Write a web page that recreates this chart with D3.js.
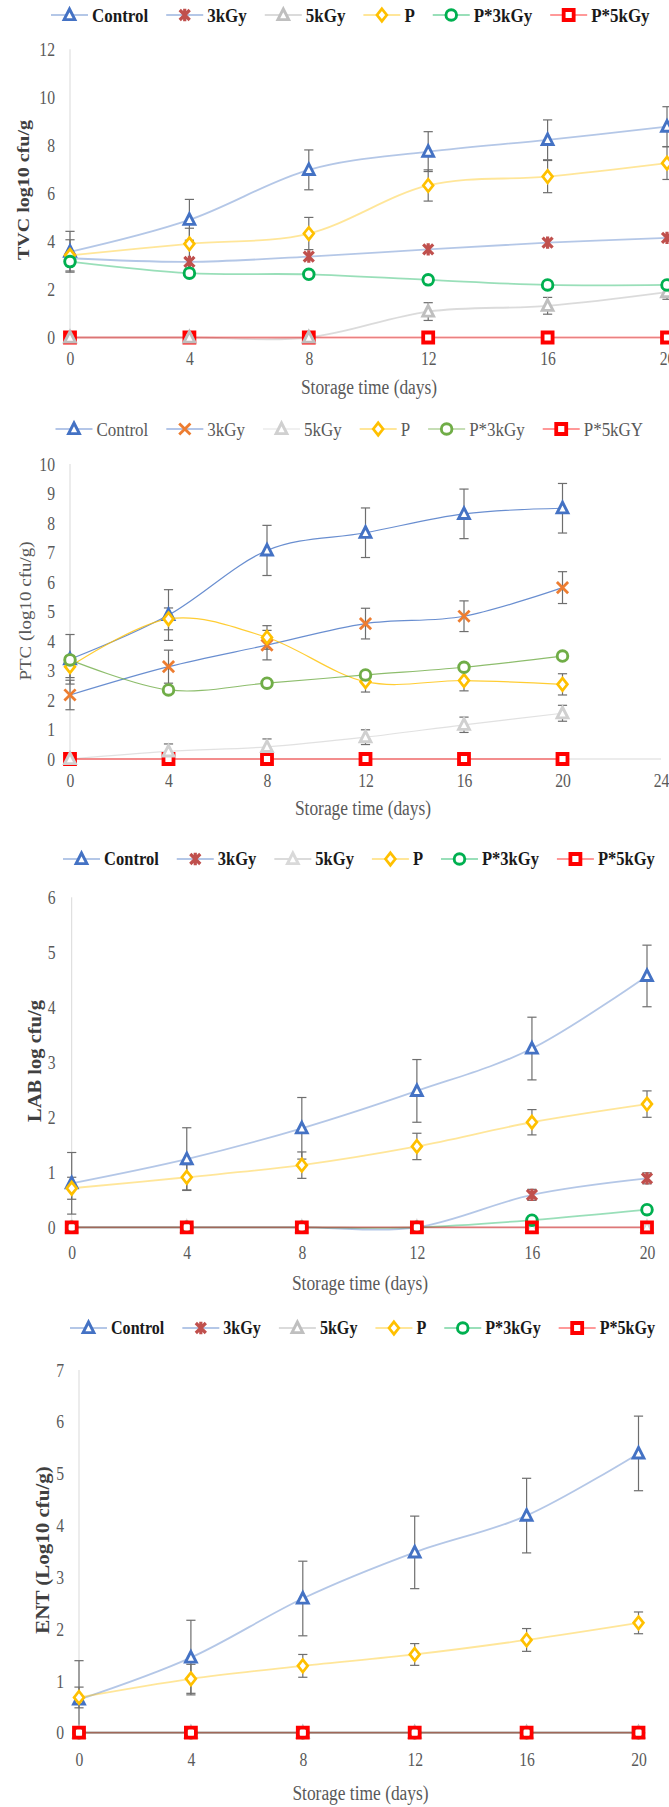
<!DOCTYPE html>
<html><head><meta charset="utf-8">
<script src="https://cdn.jsdelivr.net/npm/d3@7"></script>
<style>body{margin:0;background:#fff}svg{display:block}</style>
</head><body>
<svg id="c" width="669" height="1807"></svg>
<script>
// ---------- DATA ----------
const days = [0, 4, 8, 12, 16, 20];
const seriesNames = ["Control", "3kGy", "5kGy", "P", "P*3kGy", "P*5kGy"];
const seriesNamesPTC = ["Control", "3kGy", "5kGy", "P", "P*3kGy", "P*5kGY"];

// TVC
const tvcControl = [3.57, 4.90, 6.98, 7.74, 8.23, 8.78];
const tvc3kGy    = [3.30, 3.15, 3.37, 3.67, 3.95, 4.15];
const tvc5kGy    = [0, 0, 0, 1.08, 1.32, 1.89];
const tvcP       = [3.42, 3.90, 4.33, 6.33, 6.70, 7.26];
const tvcP3kGy   = [3.16, 2.68, 2.63, 2.40, 2.19, 2.19];
const tvcP5kGy   = [0, 0, 0, 0, 0, 0];
const tvcControlErr = [0.85, 0.85, 0.83, 0.83, 0.83, 0.83];
const tvcPErr       = [0.65, 0.65, 0.67, 0.65, 0.67, 0.68];
const tvc5kGyErr    = [0, 0, 0, 0.37, 0.35, 0.30];

// PTC
const ptcControl = [3.38, 4.88, 7.07, 7.67, 8.31, 8.50];
const ptc3kGy    = [2.17, 3.13, 3.86, 4.59, 4.84, 5.81];
const ptc5kGy    = [0, 0.26, 0.41, 0.74, 1.16, 1.55];
const ptcP       = [3.13, 4.75, 4.12, 2.62, 2.66, 2.53];
const ptcP3kGy   = [3.36, 2.34, 2.57, 2.85, 3.11, 3.49];
const ptcP5kGy   = [0, 0, 0, 0, 0, 0];
const ptcControlErr = [0.84, 0.86, 0.85, 0.84, 0.84, 0.84];
const ptc3kGyErr    = [0.50, 0.56, 0.50, 0.52, 0.52, 0.54];
const ptc5kGyErr    = [0, 0.25, 0.27, 0.25, 0.26, 0.27];
const ptcPErr       = [0.37, 0.37, 0.40, 0.35, 0.35, 0.36];

// LAB
const labControl = [0.80, 1.24, 1.80, 2.48, 3.25, 4.57];
const lab3kGy    = [0, 0, 0, 0, 0.59, 0.89];
const lab5kGy    = [0, 0, 0, 0, 0, 0];
const labP       = [0.71, 0.91, 1.13, 1.47, 1.91, 2.24];
const labP3kGy   = [0, 0, 0, 0, 0.13, 0.32];
const labP5kGy   = [0, 0, 0, 0, 0, 0];
const labControlErr = [0.56, 0.57, 0.56, 0.57, 0.57, 0.56];
const labPErr       = [0.20, 0.23, 0.24, 0.24, 0.23, 0.24];
const lab3kGyErr    = [0, 0, 0, 0, 0.10, 0.10];

// ENT
const entControl = [0.64, 1.45, 2.59, 3.48, 4.19, 5.39];
const ent3kGy    = [0, 0, 0, 0, 0, 0];
const ent5kGy    = [0, 0, 0, 0, 0, 0];
const entP       = [0.68, 1.04, 1.29, 1.51, 1.79, 2.12];
const entP3kGy   = [0, 0, 0, 0, 0, 0];
const entP5kGy   = [0, 0, 0, 0, 0, 0];
const entControlErr = [0.75, 0.72, 0.72, 0.70, 0.72, 0.72];
const entPErr       = [0.20, 0.28, 0.22, 0.21, 0.22, 0.21];

const yTicksTVC = [0, 2, 4, 6, 8, 10, 12];
const yTicksPTC = [0, 1, 2, 3, 4, 5, 6, 7, 8, 9, 10];
const yTicksLAB = [0, 1, 2, 3, 4, 5, 6];
const yTicksENT = [0, 1, 2, 3, 4, 5, 6, 7];
const xTicks20 = [0, 4, 8, 12, 16, 20];
const xTicks24 = [0, 4, 8, 12, 16, 20, 24];

// ---------- STYLE ----------
const SX = 0.87;
const FONT = '"Liberation Serif","Times New Roman",serif';
const svg = d3.select("#c");

const markerShapes = {
  triangle: "M0,-6L5.4,4.6L-5.4,4.6Z",
  diamond: "M0,-6.2L4.9,0L0,6.2L-4.9,0Z",
  square: "M-5,-5H5V5H-5Z",
  x: "M-5.6,-5.6L5.6,5.6M5.6,-5.6L-5.6,5.6",
  star: "M-5,-5L5,5M5,-5L-5,5M0,-6.2V6.2"
};
const markerStroke = {triangle: 2.9, diamond: 2.7, square: 3.8, x: 2.8, star: 3.2, circle: 2.9};

function drawMarker(g, type, cx, cy, color, squareFill) {
  const sw = markerStroke[type];
  if (type === "circle") {
    g.append("circle").attr("cx", cx).attr("cy", cy).attr("r", 5.3)
      .attr("fill", "#fff").attr("stroke", color).attr("stroke-width", sw);
  } else {
    const open = (type === "x" || type === "star");
    let fill = open ? "none" : "#fff";
    if (type === "square" && squareFill) fill = squareFill;
    g.append("path").attr("d", markerShapes[type])
      .attr("transform", `translate(${cx},${cy})`)
      .attr("fill", fill)
      .attr("stroke", color).attr("stroke-width", sw);
  }
}

function drawPanel(p) {
  const g = svg.append("g");
  const x = d3.scaleLinear().domain([0, p.xMax]).range([p.x0, p.x1]);
  const y = d3.scaleLinear().domain([0, p.yMax]).range([p.y0, p.y1]);

  // axis lines
  g.append("line").attr("x1", x(0)).attr("x2", x(0)).attr("y1", y(p.yMax)).attr("y2", y(0))
    .attr("stroke", "#D9D9D9").attr("stroke-width", 1);
  g.append("line").attr("x1", x(0)).attr("x2", x(p.xMax)).attr("y1", y(0)).attr("y2", y(0))
    .attr("stroke", "#D9D9D9").attr("stroke-width", 1);

  // y axis labels
  const ya = g.append("g").attr("transform", `translate(${p.yLabelRight},0)`)
    .call(d3.axisLeft(y).tickValues(p.yTicks).tickSize(0).tickPadding(0).tickFormat(d3.format("d")));
  ya.select(".domain").remove();
  ya.selectAll("text").attr("font-family", FONT).attr("font-size", 18).attr("fill", "#595959")
    .attr("dy", "0.34em").attr("transform", `scale(${SX},1)`);

  // x axis labels
  const xa = g.append("g").attr("transform", `translate(0,${p.xLabelY})`)
    .call(d3.axisBottom(x).tickValues(p.xTicks).tickSize(0).tickPadding(0).tickFormat(d3.format("d")));
  xa.select(".domain").remove();
  xa.selectAll("text").attr("font-family", FONT).attr("font-size", 18).attr("fill", "#595959")
    .attr("dy", "0.34em").attr("transform", `scale(${SX},1)`);

  // x title
  g.append("text").text("Storage time (days)")
    .attr("transform", `translate(${p.xTitleX},${p.xTitleY}) scale(${SX},1)`)
    .attr("text-anchor", "middle").attr("dy", "0.34em")
    .attr("font-family", FONT).attr("font-size", 20).attr("fill", "#595959");

  // y title
  g.append("text").text(p.yTitle)
    .attr("transform", `translate(${p.yTitleX},${p.yTitleY}) rotate(-90) scale(1,${SX})`)
    .attr("text-anchor", "middle").attr("dy", "0.34em")
    .attr("font-family", FONT).attr("font-size", p.yTitleSize)
    .attr("font-weight", p.yTitleBold ? "bold" : "normal").attr("fill", p.yTitleColor);

  const line = d3.line().x((d, i) => x(days[i])).y(d => y(d)).curve(d3.curveCardinal.tension(0));

  // lines
  p.series.forEach(s => {
    g.append("path").datum(s.values).attr("d", line).attr("fill", "none")
      .attr("stroke", s.lineColor).attr("stroke-opacity", p.lineOpacity)
      .attr("stroke-width", p.lineWidth);
  });

  // error bars
  p.series.forEach(s => {
    if (!s.err) return;
    s.values.forEach((v, i) => {
      const e = s.err[i];
      if (!e) return;
      const cx = x(days[i]);
      g.append("line").attr("x1", cx).attr("x2", cx).attr("y1", y(v - e)).attr("y2", y(v + e))
        .attr("stroke", "#6e6e6e").attr("stroke-width", 1.2);
      [v - e, v + e].forEach(t => {
        g.append("line").attr("x1", cx - 4.6).attr("x2", cx + 4.6).attr("y1", y(t)).attr("y2", y(t))
          .attr("stroke", "#6e6e6e").attr("stroke-width", 1.2);
      });
    });
  });

  // markers
  p.markerOrder.forEach(k => {
    const s = p.series[k];
    s.values.forEach((v, i) => drawMarker(g, s.marker, x(days[i]), y(v), s.color, p.squareFill));
  });

  // legend
  let lx = p.legendX;
  p.series.forEach(s => {
    g.append("line").attr("x1", lx).attr("x2", lx + 37).attr("y1", p.legendY).attr("y2", p.legendY)
      .attr("stroke", s.lineColor).attr("stroke-opacity", p.lineOpacity).attr("stroke-width", p.lineWidth);
    drawMarker(g, s.marker, lx + 18.5, p.legendY, s.color, "#fff");
    const t = g.append("text").text(s.name)
      .attr("transform", `translate(${lx + 41},${p.legendY}) scale(${SX},1)`)
      .attr("dy", "0.34em").attr("font-family", FONT).attr("font-size", p.legendSize)
      .attr("font-weight", p.legendBold ? "bold" : "normal").attr("fill", p.legendColor);
    lx = lx + 41 + t.node().getComputedTextLength() * SX + 18;
  });
}

function buildSeries(names, vals, errs, colors, lineColors, markers) {
  return names.map((n, i) => ({name: n, values: vals[i], err: errs[i], color: colors[i], lineColor: lineColors[i], marker: markers[i]}));
}

const colorsA = ["#4472C4", "#C0504D", "#BFBFBF", "#FFC000", "#00B050", "#FF0000"];
const lineColorsA = ["#4472C4", "#4472C4", "#A6A6A6", "#FFC000", "#00B050", "#FF0000"];
const colorsB = ["#4472C4", "#ED7D31", "#D0D0D0", "#FFC000", "#70AD47", "#FF0000"];
const lineColorsB = ["#4472C4", "#4472C4", "#D9D9D9", "#FFC000", "#70AD47", "#FF0000"];
const markersA = ["triangle", "star", "triangle", "diamond", "circle", "square"];
const markersB = ["triangle", "x", "triangle", "diamond", "circle", "square"];

drawPanel({
  xMax: 20, x0: 70, x1: 667, yMax: 12, y0: 337.5, y1: 49.3,
  yTicks: yTicksTVC, xTicks: xTicks20, yLabelRight: 55, xLabelY: 359,
  xTitleX: 369, xTitleY: 387, yTitle: "TVC log10 cfu/g", yTitleX: 23, yTitleY: 190,
  yTitleSize: 20, yTitleBold: true, yTitleColor: "#404040",
  lineOpacity: 0.4, lineWidth: 1.8, markerOrder: [5, 0, 1, 2, 3, 4], squareFill: "#fff",
  legendX: 51, legendY: 15, legendSize: 19.5, legendBold: true, legendColor: "#1a1a1a",
  series: buildSeries(seriesNames,
    [tvcControl, tvc3kGy, tvc5kGy, tvcP, tvcP3kGy, tvcP5kGy],
    [tvcControlErr, null, tvc5kGyErr, tvcPErr, null, null],
    colorsA, lineColorsA, markersA)
});

drawPanel({
  xMax: 24, x0: 70, x1: 661, yMax: 10, y0: 759, y1: 464,
  yTicks: yTicksPTC, xTicks: xTicks24, yLabelRight: 55, xLabelY: 781,
  xTitleX: 363, xTitleY: 808, yTitle: "PTC (log10 cfu/g)", yTitleX: 25, yTitleY: 611,
  yTitleSize: 19, yTitleBold: false, yTitleColor: "#595959",
  lineOpacity: 0.8, lineWidth: 1.2, markerOrder: [5, 0, 1, 2, 3, 4], squareFill: "#fff",
  legendX: 55.5, legendY: 429, legendSize: 19.5, legendBold: false, legendColor: "#595959",
  series: buildSeries(seriesNamesPTC,
    [ptcControl, ptc3kGy, ptc5kGy, ptcP, ptcP3kGy, ptcP5kGy],
    [ptcControlErr, ptc3kGyErr, ptc5kGyErr, ptcPErr, null, null],
    colorsB, lineColorsB, markersB)
});

drawPanel({
  xMax: 20, x0: 71.7, x1: 647, yMax: 6, y0: 1227.3, y1: 897.3,
  yTicks: yTicksLAB, xTicks: xTicks20, yLabelRight: 55.5, xLabelY: 1253,
  xTitleX: 360, xTitleY: 1283, yTitle: "LAB log cfu/g", yTitleX: 35, yTitleY: 1061,
  yTitleSize: 20.5, yTitleBold: true, yTitleColor: "#404040",
  lineOpacity: 0.4, lineWidth: 1.8, markerOrder: [0, 1, 2, 3, 4, 5], squareFill: "none",
  legendX: 63, legendY: 859, legendSize: 19, legendBold: true, legendColor: "#1a1a1a",
  series: buildSeries(seriesNames,
    [labControl, lab3kGy, lab5kGy, labP, labP3kGy, labP5kGy],
    [labControlErr, lab3kGyErr, null, labPErr, null, null],
    ["#4472C4", "#C0504D", "#D9D9D9", "#FFC000", "#00B050", "#FF0000"], lineColorsA, markersA)
});

drawPanel({
  xMax: 20, x0: 79, x1: 638.5, yMax: 7, y0: 1732.7, y1: 1370,
  yTicks: yTicksENT, xTicks: xTicks20, yLabelRight: 64, xLabelY: 1760,
  xTitleX: 360.5, xTitleY: 1793, yTitle: "ENT (Log10 cfu/g)", yTitleX: 43, yTitleY: 1550,
  yTitleSize: 21, yTitleBold: true, yTitleColor: "#404040",
  lineOpacity: 0.4, lineWidth: 1.8, markerOrder: [0, 1, 2, 3, 4, 5], squareFill: "none",
  legendX: 70, legendY: 1328, legendSize: 18.5, legendBold: true, legendColor: "#1a1a1a",
  series: buildSeries(seriesNames,
    [entControl, ent3kGy, ent5kGy, entP, entP3kGy, entP5kGy],
    [entControlErr, null, null, entPErr, null, null],
    colorsA, lineColorsA, markersA)
});
</script>
</body></html>
